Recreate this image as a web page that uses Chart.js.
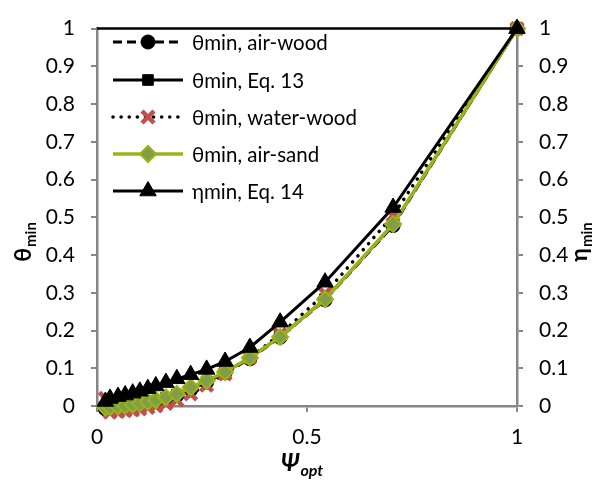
<!DOCTYPE html>
<html>
<head>
<meta charset="utf-8">
<script src="https://cdn.jsdelivr.net/npm/chart.js@4/dist/chart.umd.min.js"></script>
<style>
html,body{margin:0;padding:0;background:#fff;}
#wrap{width:599px;height:498px;}
</style>
</head>
<body>
<div id="wrap"><canvas id="c" width="599" height="498"></canvas></div>
<script>
// ---- data ----
const psi = [0.02, 0.031, 0.05, 0.067, 0.085, 0.102, 0.121, 0.14, 0.164, 0.19, 0.223, 0.261, 0.305, 0.364, 0.436, 0.543, 0.705, 1.0];
const thetaAirWood   = [-0.008,-0.007,-0.005,-0.003,0.000,0.003,0.007,0.012,0.019,0.028,0.043,0.063,0.088,0.125,0.182,0.281,0.478,1];
const thetaEq13      = [-0.006,-0.005,-0.003,-0.001,0.002,0.005,0.009,0.014,0.021,0.030,0.045,0.065,0.090,0.127,0.184,0.283,0.481,1];
const thetaWaterWood = [0.020,-0.016,-0.014,-0.012,-0.010,-0.008,-0.004,0.000,0.007,0.016,0.032,0.055,0.085,0.128,0.190,0.298,0.505,1];
const thetaAirSand   = [-0.004,-0.003,-0.001,0.001,0.004,0.007,0.011,0.016,0.023,0.032,0.050,0.067,0.090,0.128,0.183,0.283,0.482,1];
const etaEq14        = [0.012,0.020,0.025,0.029,0.034,0.039,0.046,0.053,0.062,0.072,0.083,0.097,0.118,0.155,0.222,0.328,0.526,1];
const seriesNames = ['θmin, air-wood','θmin, Eq. 13','θmin, water-wood','θmin, air-sand','ηmin, Eq. 14'];
const xTicks = [0, 0.5, 1];

const RED = '#C0504D', OLIVE = '#9CB317', OLIVE_FILL = '#7F9E45';
const FONT = 'Lato, "Open Sans", sans-serif';

function pts(ys){ return psi.map((x,i)=>({x:x,y:ys[i]})); }

const styles = [
  {data:thetaAirWood, borderColor:'#000', borderDash:[9,5], pointStyle:'circle', pointRadius:7, pointBackgroundColor:'#000', pointBorderColor:'#000', pointBorderWidth:1, borderWidth:3, order:5},
  {data:thetaEq13, borderColor:'#000', borderDash:[], pointStyle:'rect', pointRadius:7.5, pointBackgroundColor:'#000', pointBorderColor:'#000', pointBorderWidth:1, borderWidth:3, order:4},
  {data:thetaWaterWood, borderColor:'#000', borderDash:[0.1,8], borderCapStyle:'round', pointStyle:'crossRot', pointRadius:8.5, pointBackgroundColor:RED, pointBorderColor:RED, pointBorderWidth:4.5, borderWidth:3.5, order:3},
  {data:thetaAirSand, borderColor:OLIVE, borderDash:[], pointStyle:'rectRot', pointRadius:8, pointBackgroundColor:OLIVE_FILL, pointBorderColor:OLIVE, pointBorderWidth:2, borderWidth:3.5, order:2},
  {data:etaEq14, borderColor:'#000', borderDash:[], pointStyle:'triangle', pointRadius:9.5, pointBackgroundColor:'#000', pointBorderColor:'#000', pointBorderWidth:1, borderWidth:3, order:1, yAxisID:'y2'}
];

const datasets = styles.map((s,i)=>Object.assign({}, s, {
  label: seriesNames[i],
  data: pts(s.data),
  yAxisID: s.yAxisID || 'y',
  clip: false,
  tension: 0,
  fill: false
}));

// custom legend + titles + top border
const decor = {
  id:'decor',
  afterDraw(chart){
    const ctx = chart.ctx, a = chart.chartArea;
    ctx.save();
    // top border
    ctx.strokeStyle = '#000'; ctx.lineWidth = 2.5;
    ctx.beginPath(); ctx.moveTo(a.left, a.top); ctx.lineTo(a.right, a.top); ctx.stroke();

    // legend
    const ys = [42, 80, 117, 154, 191];
    const x0 = 113, x1 = 183, xm = 148;
    datasets.forEach((d,i)=>{
      const y = ys[i];
      ctx.save();
      ctx.strokeStyle = d.borderColor; ctx.lineWidth = d.borderWidth;
      ctx.setLineDash(d.borderDash || []);
      ctx.lineCap = d.borderCapStyle || 'butt';
      ctx.beginPath(); ctx.moveTo(x0,y); ctx.lineTo(x1,y); ctx.stroke();
      ctx.setLineDash([]);
      ctx.fillStyle = d.pointBackgroundColor; ctx.strokeStyle = d.pointBorderColor;
      ctx.lineWidth = d.pointBorderWidth;
      ctx.lineCap = 'butt';
      Chart.helpers.drawPoint(ctx, {pointStyle:d.pointStyle, radius:d.pointRadius, rotation:0, borderWidth:d.pointBorderWidth}, xm, y);
      ctx.restore();
      ctx.fillStyle = '#000';
      ctx.font = '20.5px ' + FONT;
      ctx.textBaseline = 'middle'; ctx.textAlign = 'left';
      ctx.fillText(d.label, 192, y+1);
    });

    // axis titles with subscripts
    function subTitle(main, sub, x, y, rot, italic, size){
      ctx.save();
      ctx.translate(x,y); ctx.rotate(rot);
      const st = italic ? 'italic bold ' : 'bold ';
      ctx.font = st + size + 'px ' + FONT;
      const w1 = ctx.measureText(main).width;
      ctx.font = st + Math.round(size*0.66) + 'px ' + FONT;
      const w2 = ctx.measureText(sub).width;
      const tot = w1 + w2 + 1;
      ctx.fillStyle = '#000'; ctx.textBaseline = 'alphabetic'; ctx.textAlign = 'left';
      ctx.font = st + size + 'px ' + FONT;
      ctx.fillText(main, -tot/2, 8);
      ctx.font = st + Math.round(size*0.66) + 'px ' + FONT;
      ctx.fillText(sub, -tot/2 + w1 + 1, 13);
      ctx.restore();
    }
    subTitle('θ', 'min', 23, 242, -Math.PI/2, false, 23);
    subTitle('η', 'min', 579, 242, -Math.PI/2, false, 23);
    subTitle('Ψ', 'opt', 302, 463, 0, true, 24);
    ctx.restore();
  }
};

const gridOpts = {drawOnChartArea:false, drawTicks:true, tickLength:6, color:'#868686', lineWidth:2};
const borderOpts = {color:'#868686', width:2.5};
const tickFont = {family: FONT, size: 21};

new Chart(document.getElementById('c'), {
  type:'line',
  data:{datasets:datasets},
  plugins:[decor],
  options:{
    responsive:false,
    animation:false,
    layout:{padding:{top:20, left:0, right:0, bottom:0}},
    plugins:{legend:{display:false}, tooltip:{enabled:false}},
    scales:{
      x:{type:'linear', position:'bottom', min:0, max:1,
         afterBuildTicks(s){ s.ticks = xTicks.map(v=>({value:v})); },
         afterFit(s){ s.height = 92; },
         ticks:{font:tickFont, color:'#000', padding:13, callback:v=>String(v)},
         grid:gridOpts, border:borderOpts},
      y:{type:'linear', position:'left', min:0, max:1,
         afterFit(s){ s.width = 97; },
         ticks:{stepSize:0.1, font:tickFont, color:'#000', padding:16, callback:v=>String(Math.round(v*10)/10)},
         grid:gridOpts, border:borderOpts},
      y2:{type:'linear', position:'right', min:0, max:1,
         afterFit(s){ s.width = 82; },
         ticks:{stepSize:0.1, font:tickFont, color:'#000', padding:16, callback:v=>String(Math.round(v*10)/10)},
         grid:gridOpts, border:borderOpts}
    }
  }
});
</script>
</body>
</html>
